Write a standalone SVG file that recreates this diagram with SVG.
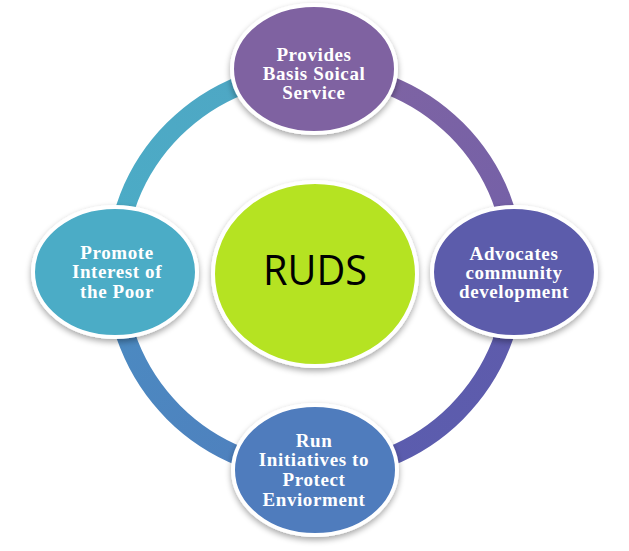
<svg xmlns="http://www.w3.org/2000/svg" width="629" height="551" viewBox="0 0 629 551">
<defs>
<filter id="sh" x="-20%" y="-20%" width="140%" height="150%">
<feGaussianBlur in="SourceAlpha" stdDeviation="3"/>
<feOffset dx="0" dy="3" result="b"/>
<feComponentTransfer><feFuncA type="linear" slope="0.35"/></feComponentTransfer>
<feMerge><feMergeNode/><feMergeNode in="SourceGraphic"/></feMerge>
</filter>
<linearGradient id="gTL" gradientUnits="userSpaceOnUse" x1="115" y1="271" x2="315" y2="71"><stop offset="0" stop-color="#4BACC6"/><stop offset="1" stop-color="#4FA6C4"/></linearGradient>
<linearGradient id="gTR" gradientUnits="userSpaceOnUse" x1="315" y1="71" x2="515" y2="271"><stop offset="0" stop-color="#8064A2"/><stop offset="1" stop-color="#7360A8"/></linearGradient>
<linearGradient id="gBR" gradientUnits="userSpaceOnUse" x1="515" y1="271" x2="315" y2="471"><stop offset="0" stop-color="#5F5BAB"/><stop offset="1" stop-color="#5A5DAF"/></linearGradient>
<linearGradient id="gBL" gradientUnits="userSpaceOnUse" x1="315" y1="471" x2="115" y2="271"><stop offset="0" stop-color="#4F7EBD"/><stop offset="1" stop-color="#4B8CC2"/></linearGradient>
</defs>
<style>
.node{stroke:#FFFFFF;stroke-width:4;filter:url(#sh)}
.lbl{font-family:"Liberation Serif","DejaVu Serif",serif;font-weight:bold;font-size:19px;letter-spacing:0.6px;fill:#FFFFFF;text-anchor:middle}
.ring{fill:none;stroke-width:19}
</style>
<g id="connectors">
<path class="ring" stroke="url(#gTL)" d="M115,271 A200,200 0 0 1 315,71"/>
<path class="ring" stroke="url(#gTR)" d="M315,71 A200,200 0 0 1 515,271"/>
<path class="ring" stroke="url(#gBR)" d="M515,271 A200,200 0 0 1 315,471"/>
<path class="ring" stroke="url(#gBL)" d="M315,471 A200,200 0 0 1 115,271"/>
</g>
<g id="center">
<ellipse class="node" cx="315" cy="274" rx="102" ry="92" fill="#B5E322"/>
<text x="315" y="285" font-family="'Open Sans','Liberation Sans',sans-serif" font-size="42" fill="#000000" text-anchor="middle" textLength="104" lengthAdjust="spacingAndGlyphs">RUDS</text>
</g>
<g id="top">
<ellipse class="node" cx="314" cy="69" rx="82" ry="64" fill="#7F62A1"/>
<text class="lbl" x="314" y="61">Provides</text>
<text class="lbl" x="314" y="80">Basis Soical</text>
<text class="lbl" x="314" y="99">Service</text>
</g>
<g id="right">
<ellipse class="node" cx="514" cy="272" rx="82" ry="65" fill="#5C5BAB"/>
<text class="lbl" x="514" y="260">Advocates</text>
<text class="lbl" x="514" y="279">community</text>
<text class="lbl" x="514" y="298">development</text>
</g>
<g id="bottom">
<ellipse class="node" cx="315" cy="470" rx="82" ry="65" fill="#4F7CBD"/>
<text class="lbl" x="314" y="447">Run</text>
<text class="lbl" x="314" y="466">Initiatives to</text>
<text class="lbl" x="314" y="486">Protect</text>
<text class="lbl" x="314" y="506">Enviorment</text>
</g>
<g id="left">
<ellipse class="node" cx="115" cy="272" rx="82" ry="65" fill="#4BACC6"/>
<text class="lbl" x="117" y="259">Promote</text>
<text class="lbl" x="117" y="278">Interest of</text>
<text class="lbl" x="117" y="298">the Poor</text>
</g>
</svg>
